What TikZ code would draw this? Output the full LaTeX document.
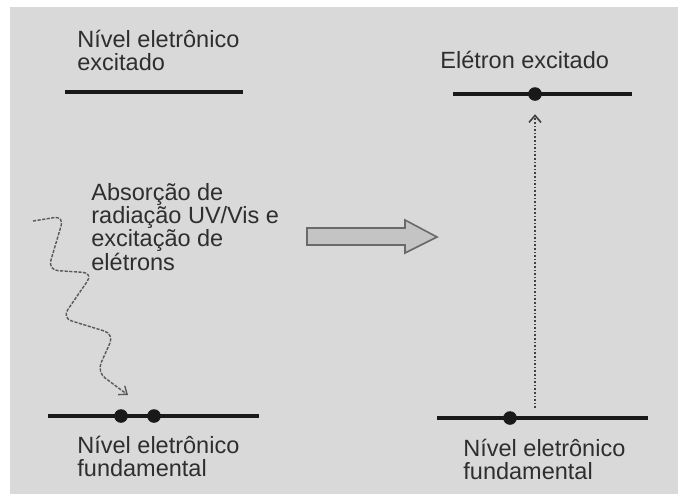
\documentclass[tikz,border=0pt]{standalone}
\usepackage{fontspec}
\setmainfont{Liberation Sans}
\usetikzlibrary{arrows.meta}

\definecolor{bggray}{HTML}{D9D9D9}
\definecolor{txtgray}{HTML}{2E2E2E}
\definecolor{arrowfill}{HTML}{C4C4C4}
\definecolor{arrowedge}{HTML}{6A6A6A}

\begin{document}
\begin{tikzpicture}[x=0.5pt, y=-0.5pt,
    level/.style={line width=1.8pt, color=black!90},
    electron/.style={circle, fill=black!90, inner sep=0pt, minimum size=6.8pt},
    lbl/.style={anchor=north west, inner sep=0pt, align=left, text=txtgray,
                font=\fontsize{11.75}{11.6}\selectfont},
    jump/.style={densely dotted, line width=0.8pt, color=black!75,
                 -{Straight Barb[length=3.5pt, width=6pt]}, shorten >=6.5pt},
    photon/.style={dash pattern=on 1.6pt off 0.7pt, line width=0.7pt, color=black!65,
                   rounded corners=5pt, -{Straight Barb[length=3.5pt, width=5.5pt]}}]
    \useasboundingbox (0,0) rectangle (678,494);
    \fill[bggray] (10,7) rectangle (678,494);

    % left side: before absorption
    \node[lbl] (exclbl) at (77,30) {Nível eletrônico\\excitado};
    \draw[level] (65,92) -- (243,92);
    \draw[level] (48,416) -- (259,416);
    \node[electron] (e1) at (121,416) {};
    \node[electron] (e2) at (154,416) {};
    \node[lbl] (fundlbl) at (77,436) {Nível eletrônico\\fundamental};
    \node[lbl] (abslbl) at (91,183) {Absorção de\\radiação UV/Vis e\\excitação de\\elétrons};

    % incoming radiation
    \coordinate (rad) at (33,221);
    \coordinate (radend) at (128,395);
    \draw[photon] (rad) -- (64,216) -- (48,270) -- (93,273) -- (62,318)
        -- (114,334) -- (97,372) -- (radend);

    % big arrow
    \draw[fill=arrowfill, draw=arrowedge, line width=0.8pt]
        (307,228) -- (405,228) -- (405,220) -- (437,237) -- (405,253) -- (405,245) -- (307,245) -- cycle;

    % right side: after absorption
    \node[lbl] (elelbl) at (440,51) {Elétron excitado};
    \draw[level] (453,94) -- (632,94);
    \node[electron] (e3) at (535,94) {};
    \draw[level] (437,418) -- (648,418);
    \node[electron] (e4) at (510,418) {};
    \node[lbl] (fundlbl2) at (463,439) {Nível eletrônico\\fundamental};
    \coordinate (jumpstart) at (535,408);
    \draw[jump] (jumpstart) -- (e3);
\end{tikzpicture}
\end{document}
